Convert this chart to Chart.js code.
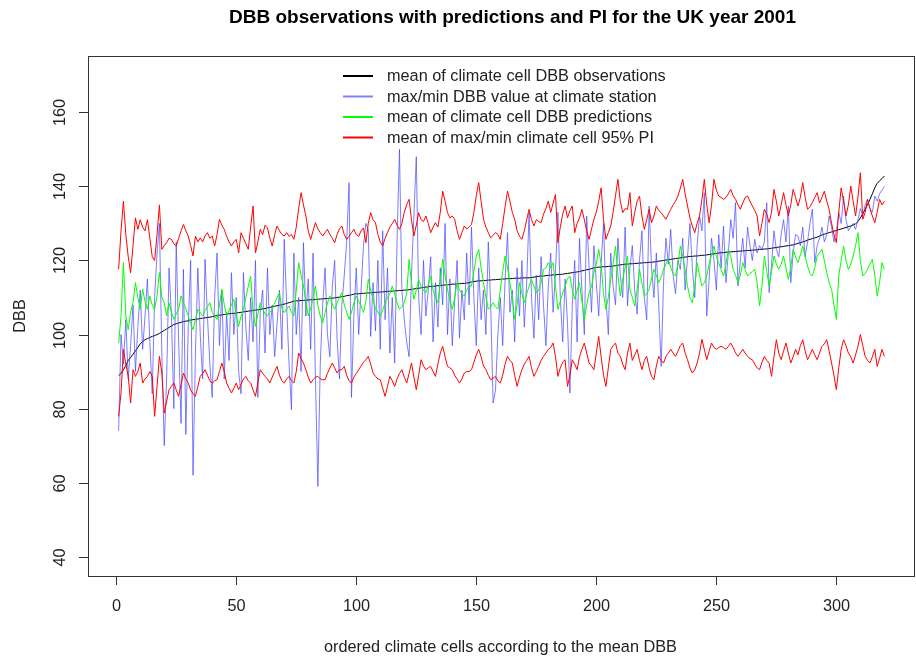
<!DOCTYPE html>
<html>
<head>
<meta charset="utf-8">
<script src="https://cdn.jsdelivr.net/npm/chart.js@4.4.0/dist/chart.umd.min.js"></script>
<style>
  html, body { margin: 0; padding: 0; background: #fff; }
</style>
</head>
<body>
<canvas id="dbbChart" width="916" height="660"></canvas>
<script>
// ordered climate cells 1..320 (x positions)
const cells = [];
for (let i = 1; i <= 320; i++) cells.push(i);

// mean of climate cell DBB observations (sorted)
const obsMean = [
  88.9, 89.5, 90.5, 91.6, 93, 93.8, 94.7, 95.6, 96.5, 97.5, 98.1, 98.6, 98.9, 99.2, 99.5, 99.7, 100, 100.3, 100.7, 101.1,
  101.5, 101.9, 102.3, 102.7, 102.9, 103.1, 103.3, 103.5, 103.6, 103.7, 103.9, 104, 104.1, 104.2, 104.3, 104.4, 104.5, 104.6, 104.7, 104.8,
  105, 105.1, 105.2, 105.3, 105.4, 105.5, 105.6, 105.7, 105.7, 105.8, 105.9, 106, 106.1, 106.2, 106.3, 106.4, 106.5, 106.6, 106.7, 106.8,
  106.9, 107, 107.2, 107.3, 107.5, 107.6, 107.8, 107.9, 108.1, 108.2, 108.4, 108.6, 108.8, 109, 109.1, 109.1, 109.2, 109.2, 109.3, 109.3,
  109.4, 109.4, 109.5, 109.5, 109.6, 109.6, 109.7, 109.7, 109.8, 109.8, 109.9, 110, 110.1, 110.2, 110.3, 110.5, 110.6, 110.7, 110.9, 111,
  111, 111.1, 111.1, 111.2, 111.2, 111.3, 111.3, 111.4, 111.4, 111.5, 111.5, 111.6, 111.6, 111.7, 111.7, 111.8, 111.8, 111.9, 111.9, 112,
  112, 112.1, 112.2, 112.3, 112.4, 112.5, 112.6, 112.7, 112.8, 112.9, 113, 113, 113.1, 113.2, 113.2, 113.3, 113.4, 113.4, 113.5, 113.6,
  113.6, 113.7, 113.7, 113.8, 113.8, 113.9, 114, 114.2, 114.3, 114.4, 114.5, 114.5, 114.6, 114.6, 114.7, 114.7, 114.8, 114.8, 114.9, 114.9,
  115, 115, 115.1, 115.1, 115.1, 115.2, 115.2, 115.2, 115.3, 115.3, 115.3, 115.3, 115.4, 115.5, 115.6, 115.7, 115.8, 115.8, 115.9, 116,
  116, 116.1, 116.1, 116.2, 116.2, 116.3, 116.4, 116.5, 116.6, 116.7, 116.8, 116.9, 117, 117.2, 117.3, 117.5, 117.6, 117.8, 118, 118.1,
  118.2, 118.2, 118.3, 118.3, 118.4, 118.4, 118.5, 118.6, 118.7, 118.8, 118.9, 119, 119, 119.1, 119.1, 119.2, 119.2, 119.3, 119.3, 119.4,
  119.4, 119.5, 119.5, 119.6, 119.7, 119.8, 119.9, 120, 120.1, 120.2, 120.3, 120.4, 120.5, 120.6, 120.7, 120.8, 120.9, 121, 121.1, 121.1,
  121.2, 121.2, 121.3, 121.4, 121.4, 121.5, 121.6, 121.7, 121.8, 121.9, 122, 122.1, 122.1, 122.2, 122.3, 122.3, 122.4, 122.4, 122.5, 122.5,
  122.6, 122.6, 122.7, 122.7, 122.8, 122.8, 122.9, 123, 123, 123.1, 123.1, 123.2, 123.3, 123.4, 123.5, 123.6, 123.7, 123.8, 123.9, 124,
  124.1, 124.2, 124.4, 124.6, 124.8, 125, 125.2, 125.5, 125.7, 125.9, 126.1, 126.3, 126.6, 126.9, 127.1, 127.3, 127.5, 127.7, 127.9, 128.1,
  128.3, 128.5, 128.7, 128.9, 129.1, 129.3, 129.6, 129.9, 130.5, 131.5, 132.6, 133.8, 135.1, 136.5, 138, 139.6, 140.8, 141.5, 142.1, 142.8
];

// max/min DBB value at climate station
const stationVal = [
  74, 100, 92, 104, 88, 97, 108, 90, 102, 112, 96, 105, 115, 98, 84, 110, 122, 130, 95, 70,
  88, 118, 105, 80, 125, 98, 76, 117.6, 73, 102, 120, 62, 95, 118, 100, 88, 120.3, 105, 92, 83,
  110, 122, 97, 112, 88, 106, 93, 116.7, 100, 110, 90, 84, 116.7, 102, 93, 110, 98, 120, 83, 106,
  112, 95, 118, 100, 108, 94, 103, 112, 96, 125.7, 108, 92, 79.7, 122, 100, 110, 90, 124.8, 105, 115,
  96, 122, 88, 59, 92, 108, 118, 100, 94, 113, 120, 99, 88, 108, 116, 125, 141, 83, 105, 118,
  100, 112, 124, 130, 128.4, 99.5, 114, 101, 120, 96, 128, 104, 118, 95, 110, 92.3, 126, 150, 112, 104,
  98, 94, 116, 132, 148, 110, 100, 120, 105, 112, 121, 98, 114, 102, 118, 108, 130, 100, 115, 97,
  109, 120, 99, 112, 104, 122, 108, 129, 110, 97, 118, 104, 112, 100, 125, 108, 81.5, 85, 100, 110,
  97, 115, 127.5, 106, 112, 98, 118, 105, 120, 102, 114, 132.9, 110, 99, 116, 104, 121, 108, 97, 113,
  122, 106, 117, 133, 110, 98, 115, 103, 84.2, 108, 120, 98, 126, 112, 100, 132, 118, 106, 124, 114,
  105, 119, 130, 110, 100, 122, 113, 108, 126, 116, 110, 129, 107.7, 118, 124, 112, 105.5, 120, 128, 110,
  104, 134.7, 118, 110, 122, 108, 91.4, 114, 126, 119, 128.4, 116, 111, 120, 117.6, 126, 112, 121, 130, 118,
  110, 124, 132, 128, 138.3, 105, 115, 126, 120, 112, 127, 118, 129.3, 114, 122, 131, 126, 135.6, 113.1, 120,
  126, 118, 129, 124, 120, 125.7, 122, 124, 123, 125, 135.6, 111.3, 119, 128, 123, 121, 127, 131, 125, 134.7,
  114, 122, 127, 126.6, 124, 129, 121, 125, 130, 133.8, 119.4, 124, 126, 129, 125, 127, 132, 129, 125, 128,
  133, 130, 137.4, 131, 128, 129, 130, 128.4, 131, 134, 132, 135, 136.5, 134, 133, 137.4, 136, 138, 139, 140
];

// mean of climate cell DBB predictions
const predMean = [
  97.7, 105, 119.4, 105, 101.3, 106, 108.6, 114, 110, 106.8, 112.2, 109, 106.8, 110.4, 108, 106.8, 110.4, 116.7, 110, 108.6,
  105, 108.6, 106, 104.1, 105.5, 106.8, 110.4, 108.6, 107, 105, 103, 101.3, 104, 106.8, 106, 105, 106.5, 107.5, 108.6, 106,
  105, 104.1, 108, 112.2, 108, 105, 106.5, 108, 109.5, 105, 102.2, 105, 106.8, 110, 113, 115.8, 106, 102.2, 105.5, 108.6,
  107, 105.5, 105, 106, 106.8, 108.5, 110, 111.3, 107, 105.9, 107, 107.7, 106, 105, 112, 119.4, 116, 113.1, 109, 105,
  107, 110, 113.1, 108, 105, 103.1, 106, 108.5, 110.4, 108, 106.8, 108.5, 110, 111.3, 108, 106, 104.1, 106, 108.5, 110.4,
  109, 107.7, 105.9, 109, 114.9, 112, 109.5, 107, 106, 105, 106.5, 108.6, 110, 111, 113.1, 111, 108.5, 106.8, 107.5, 108.6,
  111, 120.3, 114, 109.5, 112, 114.9, 113, 112, 111.3, 113.5, 115.8, 112, 110, 108.6, 114, 120.3, 116, 112.2, 109, 106.8,
  110, 114, 112, 111, 110.4, 112, 113, 113.1, 117, 121, 123, 118, 114, 110, 106.8, 107.5, 108.6, 107.5, 106.8, 112,
  117, 121.2, 118, 114, 110, 104.1, 108, 114, 111, 108.6, 111, 113, 114.9, 113, 111.3, 112, 114, 117.6, 118, 119.4,
  118, 119.4, 113, 106.8, 109, 111.3, 113, 115, 115.8, 112, 109.5, 112, 114, 109, 104.1, 108, 111.3, 113, 116.7, 119,
  123, 119, 111, 106.8, 110, 114.9, 119, 123.9, 116, 110.4, 115, 118, 121.2, 112.2, 110, 107.7, 112, 117.6, 114, 110.4,
  111, 112.2, 115, 117.6, 116, 114, 115.5, 117.6, 119, 120.3, 118, 116.5, 115.8, 119, 123.9, 121, 117.6, 113, 110, 108.6,
  113, 119.4, 116, 113.1, 114, 115.8, 119, 121.5, 123.9, 121, 119.4, 117.5, 115.8, 119, 123, 121, 117.6, 116, 114, 116,
  119.4, 117.5, 115.8, 116.5, 117, 117.6, 114, 107.7, 113, 121.2, 117, 113.1, 117, 121.2, 119, 117.6, 119, 121.2, 118, 114.9,
  118, 123, 121, 119.4, 121.5, 123.9, 121, 118.5, 116.5, 115.8, 118, 121.2, 122, 123, 120, 116.7, 114, 112.2, 108, 104.1,
  115.8, 120, 123.9, 120, 117.6, 119, 121.2, 124, 127.5, 120, 115.8, 116.5, 117.6, 119, 120.3, 116, 110.4, 114, 119.4, 117.6
];

// mean of max climate cell 95% PI (upper red)
const piUpper = [
  117.6, 128, 136, 127, 121, 116.7, 124, 131.5, 128.4, 131, 129, 128, 131, 126, 121, 120, 127, 135, 123, 124,
  124.8, 126, 125.7, 124.5, 123.9, 126, 128, 129.7, 128, 126.6, 124, 121.2, 126.6, 125, 126.1, 125, 126.6, 127.5, 126, 126.6,
  123.9, 127, 131.1, 129.5, 128.4, 126.5, 125, 123.9, 125, 125.7, 122, 127.5, 126, 124.5, 123, 129, 134.7, 122, 125, 128.4,
  127, 129.5, 128.8, 126, 123.9, 127, 129.3, 128, 127, 126.6, 127.5, 126.5, 127, 125.7, 129, 134, 138.3, 135, 132, 128,
  125.7, 128, 130.2, 128.5, 127.5, 126.6, 127.5, 128.4, 127, 126, 124.8, 127, 128.5, 129.3, 127, 125.7, 126.5, 127.5, 128.4, 127,
  126.5, 128, 128.8, 124.8, 130, 132.9, 131, 130.2, 127, 125, 123.9, 126, 127.5, 129, 130, 131.1, 129.5, 128.4, 130, 133,
  135, 136.5, 131, 126.6, 129.5, 132.9, 131, 130.5, 132, 130, 127.5, 129, 130.2, 129, 133, 138.7, 136, 132.9, 131.5, 132,
  131.1, 128, 125.7, 127.5, 129.3, 128.5, 129, 129.7, 133, 137.5, 141, 136, 131.1, 129, 127.5, 126.1, 126.8, 127.5, 127, 125.7,
  130, 134.5, 138.7, 136, 133, 131.1, 128, 126.5, 125.7, 128, 131, 133.8, 131, 129.3, 131, 130.5, 130.2, 132.5, 134, 136,
  133, 135.5, 137.8, 124.8, 129, 132.5, 134.7, 131.5, 133.5, 134.7, 127.5, 130, 131.5, 133.8, 131, 128, 125.7, 128.5, 131.1, 133,
  136, 139.6, 131, 125.7, 127.5, 129.3, 133, 137.5, 141.9, 136, 132.9, 134, 133.8, 138.3, 129.3, 133, 136, 137.4, 132, 128.4,
  131, 133.8, 130.2, 132, 134.7, 133.5, 132.9, 132, 131.1, 132.5, 133.8, 135, 136, 137.4, 139.5, 141.9, 138, 134.7, 131.5, 129.3,
  127.5, 130, 132, 136.5, 141.9, 135, 130.2, 135, 141.9, 139, 137.4, 137, 136.5, 137, 138, 139.2, 137.5, 136.5, 135, 133.8,
  135.5, 137, 137.4, 136, 134.7, 133.5, 132, 126.6, 130, 133.8, 132.5, 130.2, 133, 139.2, 136, 132, 135, 138.3, 135, 132,
  135, 139.2, 137, 134.7, 137, 141, 137, 133.8, 134.5, 135.6, 137, 138.3, 135.5, 137, 138.7, 136, 133.8, 130, 127, 124.8,
  133, 139.6, 136, 132, 135, 140.1, 136, 132, 137, 143.7, 131.1, 133, 136.5, 134, 132, 130.2, 133, 136.5, 135, 136
];

// mean of min climate cell 95% PI (lower red)
const piLower = [
  77.9, 84.2, 96, 92, 88.7, 81.5, 90.5, 88.7, 90, 92.3, 86.9, 88, 88.7, 90, 88.7, 77.9, 86, 94.1, 89.6, 78.8,
  82, 85.1, 86, 86.9, 85, 83.3, 86.5, 89.6, 88, 86.9, 85, 84, 83.3, 86, 88.7, 89.5, 90.5, 89, 87.5, 86.9,
  87.5, 87.8, 90, 92.3, 90, 86.9, 85.5, 84.2, 85.5, 86.9, 85.1, 86.5, 88, 88.7, 87.5, 86.9, 85, 83.3, 87, 90.5,
  89.5, 88.7, 88, 86.9, 88.5, 90, 91.4, 89, 87.5, 86.9, 88, 88.7, 87.5, 86.9, 90, 95, 93.5, 92.3, 90.5, 88.5,
  86.9, 87.8, 88.5, 88.7, 88, 87.8, 87.8, 89.5, 91, 92.3, 91, 89.6, 90.5, 90.5, 91.4, 89, 87.5, 86.9, 88.5, 89.5,
  90.5, 91.5, 92.5, 93.2, 94.1, 92, 89.6, 88.7, 88, 87.8, 85.5, 83.3, 86, 88.7, 87.5, 86, 88, 89.5, 90.5, 88.5,
  86.9, 89.5, 92.3, 88.5, 85.1, 89, 93.2, 91.5, 90.5, 91, 91.4, 90, 88.7, 92, 95, 96.8, 94, 91.4, 91, 90.5,
  89, 88, 86.9, 88, 89.6, 90, 90, 90.5, 92.5, 94.5, 96, 94, 91.5, 90.5, 89, 87.8, 88.2, 88.7, 87.5, 86.9,
  89, 92, 94.1, 93, 92.3, 89, 86, 88.5, 90.5, 92, 93, 94.1, 91, 88.7, 90, 91.4, 93, 94.1, 95, 96,
  96.5, 97.7, 94, 88.7, 91, 92.5, 93.2, 86, 89, 93.2, 92, 90.5, 94, 96, 97.7, 95, 92.3, 91.5, 90.5, 95,
  99.5, 94, 89, 86, 91, 96, 97, 97.7, 95, 94.1, 92, 90.5, 95, 97.7, 93, 94.5, 96, 93, 90.5, 93,
  94.1, 91, 88.7, 87.8, 91.5, 94.1, 93, 92.3, 94.1, 95, 96, 95, 94.1, 95.5, 97, 97.7, 95, 93.2, 91, 89.6,
  90.5, 92.3, 95, 98.7, 96, 93.2, 95.5, 97.7, 96.5, 96, 96.5, 96.8, 96.5, 96, 96.8, 97.7, 96.5, 95, 94.1, 95,
  96, 95, 94.1, 93.5, 93.2, 92, 91, 90.5, 92.5, 94.1, 93, 92.3, 88.7, 94, 98.6, 95, 93.2, 95.5, 97.7, 95,
  92.3, 94, 96, 94.5, 97, 98.6, 95.5, 93.2, 94.5, 96, 94.5, 93.2, 95, 96.8, 97.5, 98.6, 95.5, 92.3, 89, 85.1,
  91, 96, 98.6, 97, 95, 94, 92.3, 94.5, 96.8, 100, 97, 94.1, 93, 92.3, 94, 96, 91.4, 93.5, 96, 94.1
];

const xTicks = [0, 50, 100, 150, 200, 250, 300];
const yTicks = [40, 60, 80, 100, 120, 140, 160];

const legendItems = [
  { label: 'mean of climate cell DBB observations', color: '#000000' },
  { label: 'max/min DBB value at climate station', color: '#7f7fff' },
  { label: 'mean of climate cell DBB predictions', color: '#00ff00' },
  { label: 'mean of max/min climate cell 95% PI', color: '#ff0000' }
];

const FONT = '"Liberation Sans", Arial, sans-serif';

function pts(vals) {
  return vals.map((v, i) => ({ x: cells[i], y: v }));
}

function line(data, color, order) {
  return {
    data: pts(data),
    borderColor: color,
    borderWidth: 1,
    pointRadius: 0,
    tension: 0,
    fill: false,
    order: order
  };
}

// R-style frame, ticks, labels, title and legend
const rDecor = {
  id: 'rDecor',
  afterDraw(chart) {
    const { ctx, chartArea: a, scales: { x, y } } = chart;
    ctx.save();

    ctx.strokeStyle = '#333';
    ctx.lineWidth = 1;
    ctx.strokeRect(Math.round(a.left) + 0.5, Math.round(a.top) + 0.5,
                   Math.round(a.right - a.left) - 1, Math.round(a.bottom - a.top));

    ctx.fillStyle = '#222';
    ctx.font = '16.3px ' + FONT;
    ctx.textAlign = 'center';
    ctx.textBaseline = 'middle';

    xTicks.forEach(v => {
      const px = Math.round(x.getPixelForValue(v)) + 0.5;
      ctx.beginPath();
      ctx.moveTo(px, a.bottom);
      ctx.lineTo(px, a.bottom + 9);
      ctx.stroke();
      ctx.fillText(String(v), px, 607);
    });

    yTicks.forEach(v => {
      const py = Math.round(y.getPixelForValue(v)) + 0.5;
      ctx.beginPath();
      ctx.moveTo(a.left, py);
      ctx.lineTo(a.left - 9, py);
      ctx.stroke();
      ctx.save();
      ctx.translate(61, py);
      ctx.rotate(-Math.PI / 2);
      ctx.fillText(String(v), 0, 0);
      ctx.restore();
    });

    // axis titles
    ctx.fillText('ordered climate cells according to the mean DBB', (a.left + a.right) / 2 - 1, 648);
    ctx.save();
    ctx.translate(21, (a.top + a.bottom) / 2);
    ctx.rotate(-Math.PI / 2);
    ctx.fillText('DBB', 0, 0);
    ctx.restore();

    // main title
    ctx.fillStyle = '#000';
    ctx.font = 'bold 19px ' + FONT;
    ctx.fillText('DBB observations with predictions and PI for the UK year 2001', (a.left + a.right) / 2 + 11, 18);

    // legend (no box)
    ctx.font = '16.3px ' + FONT;
    ctx.textAlign = 'left';
    ctx.fillStyle = '#222';
    legendItems.forEach((it, k) => {
      const ly = 76 + k * 20.5;
      ctx.strokeStyle = it.color;
      ctx.lineWidth = 2;
      ctx.beginPath();
      ctx.moveTo(343, ly);
      ctx.lineTo(373, ly);
      ctx.stroke();
      ctx.fillText(it.label, 387, ly + 1);
    });

    ctx.restore();
  }
};

new Chart(document.getElementById('dbbChart').getContext('2d'), {
  type: 'line',
  data: {
    datasets: [
      line(piUpper, '#ff0000', 0),
      line(piLower, '#ff0000', 0),
      line(predMean, '#00ff00', 1),
      line(stationVal, 'rgba(70,70,255,0.7)', 2),
      line(obsMean, '#000000', 3)
    ]
  },
  options: {
    responsive: false,
    animation: false,
    devicePixelRatio: 1,
    layout: { padding: { left: 88, top: 56, right: 1, bottom: 84 } },
    plugins: { legend: { display: false }, tooltip: { enabled: false }, title: { display: false } },
    scales: {
      x: { type: 'linear', min: -11.76, max: 332.76, display: false },
      y: { type: 'linear', min: 34.8, max: 175.2, display: false }
    }
  },
  plugins: [rDecor]
});
</script>
</body>
</html>
